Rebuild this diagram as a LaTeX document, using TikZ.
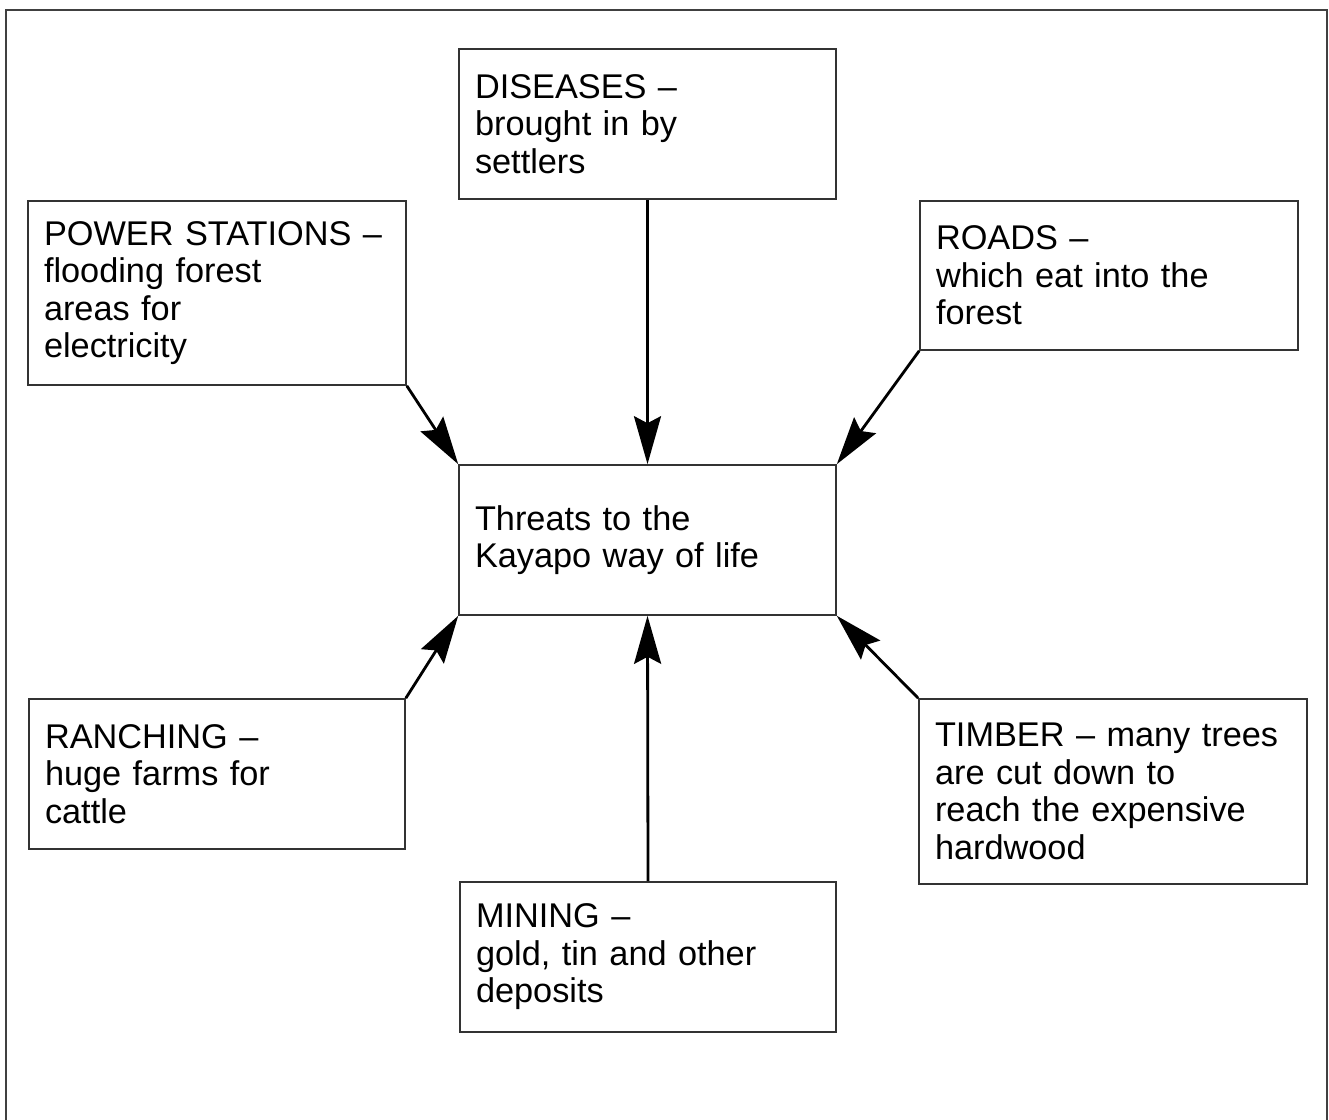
\documentclass[tikz,border=0pt]{standalone}
\usepackage{fontspec}
\setmainfont{Liberation Sans}
\usetikzlibrary{arrows.meta}
\begin{document}
\begin{tikzpicture}[x=1pt,y=-1pt,
  box/.style={draw=black!80, line width=1.6pt, align=left, inner xsep=16pt, inner ysep=0pt,
    font=\fontsize{34.3}{37.5}\selectfont, anchor=center},
  std/.style={box, minimum width=377pt, minimum height=150pt, text width=345pt},
  arr/.style={line width=2.8pt, draw=black, -{Stealth[length=48pt,width=27pt,inset=7pt]}}]
\useasboundingbox (0,0) rectangle (1329,1119);
\draw[draw=black!75, line width=1.6pt] (6,1140) -- (6,10) -- (1327,10) -- (1327,1140);

\node[std] (dis) at (647.5,124) {DISEASES –\\brought in by\\settlers};
\node[box, minimum width=378pt, minimum height=184pt, text width=346pt] (pow) at (217,293)
  {POWER STATIONS –\\flooding forest\\areas for\\electricity};
\node[box, minimum width=378pt, minimum height=149pt, text width=346pt] (rds) at (1109,275.5)
  {ROADS –\\which eat into the\\forest};
\node[std] (ctr) at (647.5,540) {Threats to the\\Kayapo way of life};
\node[std, minimum width=376pt, text width=344pt] (rnc) at (217,774) {RANCHING –\\huge farms for\\cattle};
\node[std, minimum width=376pt, text width=344pt] (min) at (648,957) {MINING –\\gold, tin and other\\deposits};
\node[box, minimum width=388pt, minimum height=185pt, text width=356pt] (tim) at (1113,791.5)
  {TIMBER – many trees\\are cut down to\\reach the expensive\\hardwood};

\draw[arr] (dis.south) -- (ctr.north);
\draw[arr] (pow.south east) -- (ctr.north west);
\draw[arr] (rds.south west) -- (ctr.north east);
\draw[arr] (rnc.north east) -- (ctr.south west);
\draw[arr] (min.north) -- (ctr.south);
\draw[arr] (tim.north west) -- (ctr.south east);
\end{tikzpicture}
\end{document}
